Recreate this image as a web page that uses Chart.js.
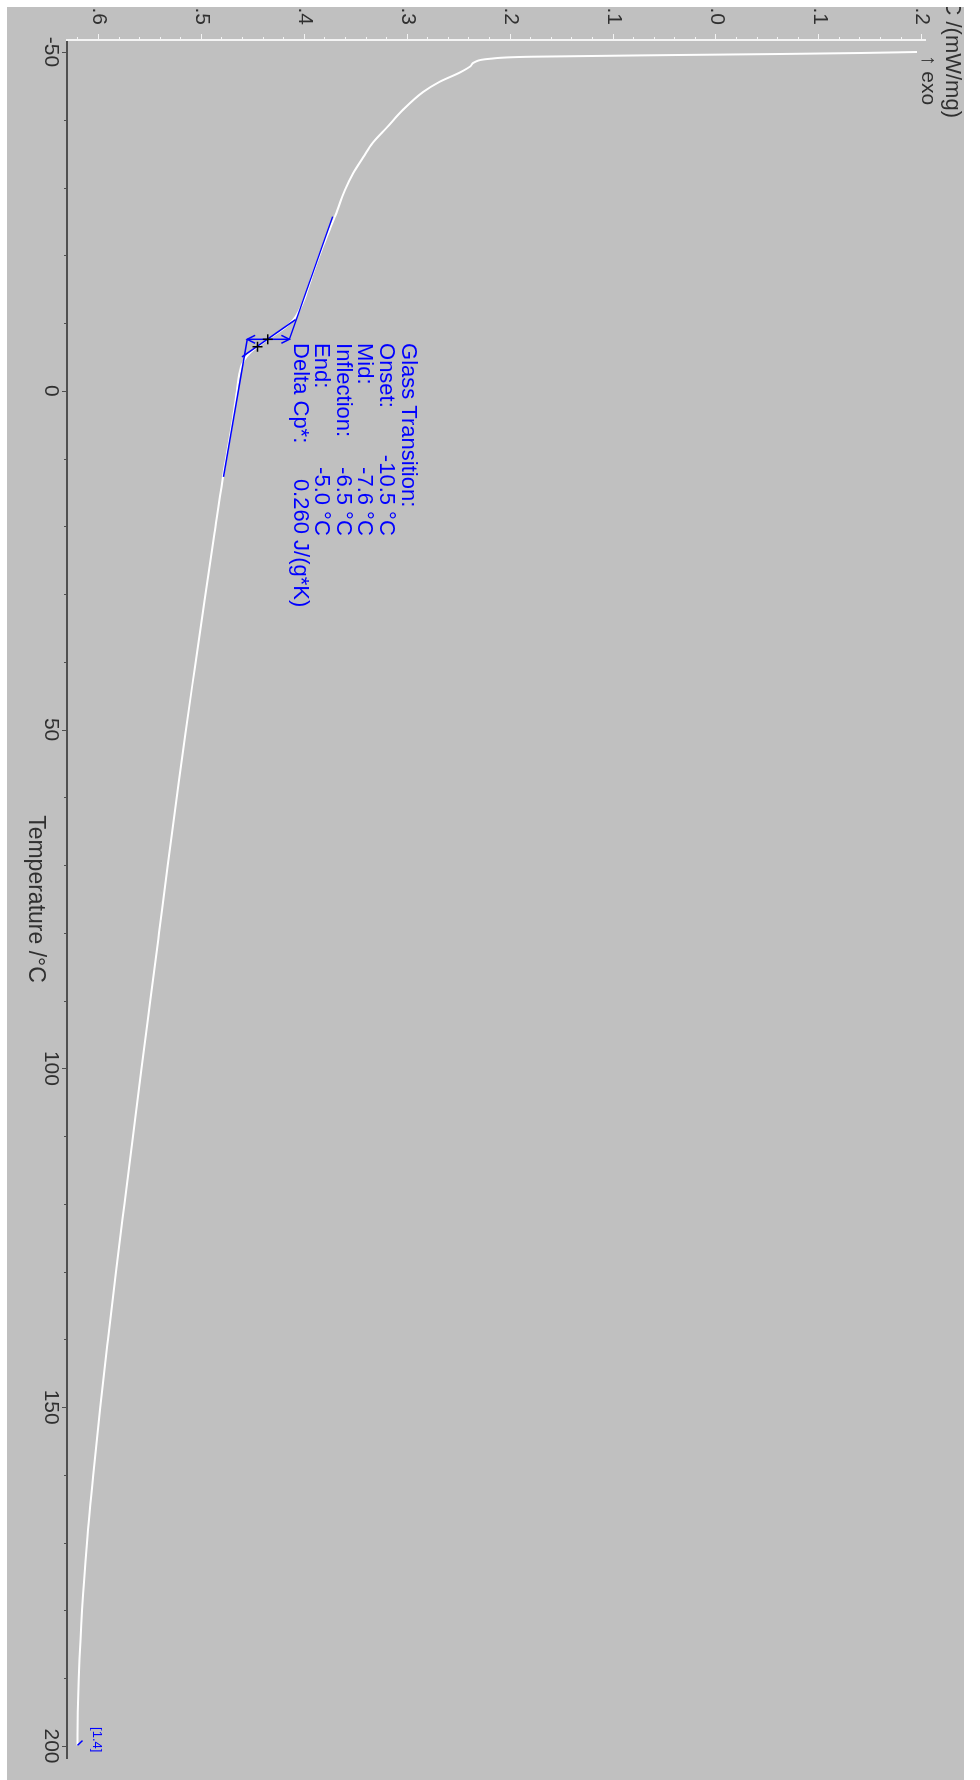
<!DOCTYPE html>
<html>
<head>
<meta charset="utf-8">
<title>DSC glass transition</title>
<script src="https://cdn.jsdelivr.net/npm/chart.js@4.4.1/dist/chart.umd.min.js"></script>
<style>
  body { margin: 0; width: 980px; height: 1780px; overflow: hidden; background: #ffffff; }
  /* grey plot window, the chart itself is drawn landscape and turned a quarter clockwise */
  #plot-frame { position: absolute; left: 7px; top: 7px; width: 957px; height: 1773px; overflow: hidden; background: #c0c0c0; }
  #turned { position: absolute; left: 0; top: 0; width: 1820px; height: 980px; transform-origin: 0 0; transform: translate(973px, -27px) rotate(90deg); }
</style>
</head>
<body>
<div id="plot-frame"><div id="turned"><canvas id="dsc-chart" width="1820" height="980"></canvas></div></div>
<script>
'use strict';

let tempC = [-50.0, -49.85, -49.7, -49.55, -49.3, -49.0, -48.5, -47.9, -47.0, -45.6,
  -44.1, -41.4, -38.9, -36.6, -34.5, -32.1, -29.6, -25.6, -21.5, -17.4,
  -13.7, -12.0, -10.5, -9.5, -8.5, -7.6, -6.5, -5.5, -4.5, -3.5,
  0, 4.3, 13.2, 21, 31, 41, 50.5, 60, 70, 80,
  90, 100, 110, 120, 130, 140, 150, 160, 170, 180,
  190, 195, 199.9];
let dscVals = [0.195, 0.14, 0.06, -0.04, -0.18, -0.22, -0.235, -0.239, -0.249, -0.269,
  -0.285, -0.305, -0.320, -0.334, -0.343, -0.353, -0.361, -0.371, -0.382, -0.392,
  -0.400, -0.405, -0.411, -0.418, -0.427, -0.436, -0.446, -0.454, -0.459, -0.462,
  -0.466, -0.470, -0.480, -0.4877, -0.4974, -0.5070, -0.5160, -0.5244, -0.5331, -0.5416,
  -0.5501, -0.5586, -0.5670, -0.5753, -0.5835, -0.5913, -0.5988, -0.6056, -0.6117, -0.6165,
  -0.6196, -0.6206, -0.6210];

// Glass transition evaluation lines
let upperBaseT = [-25.7, -7.6];
let upperBaseDsc = [-0.373, -0.415];
let lowerBaseT = [-7.6, 12.7];
let lowerBaseDsc = [-0.456, -0.479];
let tangentT = [-10.5, -5.0];
let tangentDsc = [-0.409, -0.461];
let stepArrowT = [-7.6, -7.6];
let stepArrowDsc = [-0.415, -0.456];
// mid point and inflection point crosses
let markT = [-7.6, -6.5];
let markDsc = [-0.436, -0.446];
// little leader at the end of the curve
let endLeadT = [199.9, 199.2];
let endLeadDsc = [-0.621, -0.616];

// Axis ticks
let tempTicks = [-50, 0, 50, 100, 150, 200];
let dscTicks = [-0.6, -0.5, -0.4, -0.3, -0.2, -0.1, 0.0, 0.1, 0.2];
let tempMinorStep = 10;
let dscMinorStep = 0.02;

// Result texts
let gtLabels = ['Glass Transition:', 'Onset:', 'Mid:', 'Inflection:', 'End:', 'Delta Cp*:'];
let gtValues = ['', '-10.5 °C', '-7.6 °C', '-6.5 °C', '-5.0 °C', '0.260 J/(g*K)'];
let endLabel = '[1.4]';
let yTitle = 'DSC /(mW/mg)';
let exoText = '\u2191 exo';

const FONT = "'Liberation Sans', Arial, sans-serif";
const BLUE = '#0000ff';

function toPoints(xs, ys) {
  let pts = [];
  for (let i = 0; i < xs.length; i++) {
    pts.push({ x: xs[i], y: ys[i] });
  }
  return pts;
}

function makeTicks(min, max, step) {
  let list = [];
  let first = Math.ceil(min / step - 1e-9);
  let last = Math.floor(max / step + 1e-9);
  for (let i = first; i <= last; i++) {
    list.push({ value: Math.round(i * step * 1000) / 1000 });
  }
  return list;
}

function isTempMajor(v) {
  return tempTicks.some(t => Math.abs(t - v) < 1e-6);
}
function isDscMajor(v) {
  return dscTicks.some(t => Math.abs(t - v) < 1e-6);
}

// tick marks, arrow heads and the texts
const decorPlugin = {
  id: 'decor',
  afterDraw(chart) {
    let ctx = chart.ctx;
    let xs = chart.scales.x;
    let ys = chart.scales.y;
    let area = chart.chartArea;
    ctx.save();

    // temperature ticks
    ctx.lineWidth = 1;
    ctx.strokeStyle = '#505050';
    xs.ticks.forEach(t => {
      let px = Math.round(xs.getPixelForValue(t.value)) + 0.5;
      let len = isTempMajor(t.value) ? 5 : 3;
      ctx.beginPath();
      ctx.moveTo(px, area.bottom);
      ctx.lineTo(px, area.bottom + len);
      ctx.stroke();
    });

    // DSC ticks
    ctx.strokeStyle = '#f4f4f4';
    ys.ticks.forEach(t => {
      let py = Math.round(ys.getPixelForValue(t.value)) + 0.5;
      let len = isDscMajor(t.value) ? 6 : 3;
      ctx.beginPath();
      ctx.moveTo(area.left, py);
      ctx.lineTo(area.left - len, py);
      ctx.stroke();
    });

    // arrow heads of the delta Cp step
    let ax = xs.getPixelForValue(stepArrowT[0]);
    let aTop = ys.getPixelForValue(stepArrowDsc[0]);
    let aBot = ys.getPixelForValue(stepArrowDsc[1]);
    ctx.strokeStyle = BLUE;
    ctx.lineWidth = 1.5;
    ctx.beginPath();
    ctx.moveTo(ax - 4, aTop + 8);
    ctx.lineTo(ax, aTop);
    ctx.lineTo(ax + 4, aTop + 8);
    ctx.moveTo(ax - 4, aBot - 8);
    ctx.lineTo(ax, aBot);
    ctx.lineTo(ax + 4, aBot - 8);
    ctx.stroke();

    // result block
    ctx.fillStyle = BLUE;
    ctx.font = '22px ' + FONT;
    ctx.textBaseline = 'middle';
    let tx = xs.getPixelForValue(-7.05);
    let ty = ys.getPixelForValue(-0.30);
    let lineH = 21.6;
    for (let i = 0; i < gtLabels.length; i++) {
      ctx.textAlign = 'left';
      ctx.fillText(gtLabels[i], tx, ty + i * lineH);
      if (gtValues[i] === '') continue;
      if (gtValues[i].indexOf('°C') > -1) {
        ctx.textAlign = 'right';
        ctx.fillText(gtValues[i], xs.getPixelForValue(21.4), ty + i * lineH);
      } else {
        ctx.textAlign = 'left';
        ctx.fillText(gtValues[i], xs.getPixelForValue(13.0), ty + i * lineH);
      }
    }

    // curve number at the end
    ctx.font = '13px ' + FONT;
    ctx.textAlign = 'left';
    ctx.fillText(endLabel, xs.getPixelForValue(197.2), ys.getPixelForValue(-0.602));

    // y title and exo arrow above the y axis
    ctx.fillStyle = '#303030';
    ctx.font = '22px ' + FONT;
    ctx.textAlign = 'right';
    ctx.fillText(yTitle, area.left + 78, area.top - 27);
    ctx.font = '21px ' + FONT;
    ctx.textAlign = 'left';
    ctx.fillText(exoText, area.left + 15, area.top - 3);

    ctx.restore();
  }
};

Chart.defaults.font.family = FONT;

let ctx = document.getElementById('dsc-chart');

let chartObject = {
  type: 'line',
  data: {
    datasets: [{
      label: 'DSC',
      data: toPoints(tempC, dscVals),
      borderColor: '#ffffff',
      borderWidth: 2,
      pointRadius: 0,
      cubicInterpolationMode: 'monotone',
      order: 3
    },
    {
      label: 'upper baseline',
      data: toPoints(upperBaseT, upperBaseDsc),
      borderColor: BLUE,
      borderWidth: 1.5,
      pointRadius: 0,
      order: 1
    },
    {
      label: 'lower baseline',
      data: toPoints(lowerBaseT, lowerBaseDsc),
      borderColor: BLUE,
      borderWidth: 1.5,
      pointRadius: 0,
      order: 1
    },
    {
      label: 'tangent',
      data: toPoints(tangentT, tangentDsc),
      borderColor: BLUE,
      borderWidth: 1.5,
      pointRadius: 0,
      order: 1
    },
    {
      label: 'step',
      data: toPoints(stepArrowT, stepArrowDsc),
      borderColor: BLUE,
      borderWidth: 1.5,
      pointRadius: 0,
      order: 1
    },
    {
      label: 'end lead',
      data: toPoints(endLeadT, endLeadDsc),
      borderColor: BLUE,
      borderWidth: 1.5,
      pointRadius: 0,
      order: 1
    },
    {
      label: 'marks',
      data: toPoints(markT, markDsc),
      showLine: false,
      pointStyle: 'cross',
      pointRadius: 5,
      borderColor: '#000000',
      borderWidth: 1.5,
      order: 0
    }]
  },
  options: {
    responsive: false,
    animation: false,
    events: [],
    layout: {
      padding: { left: 0, right: 42, top: 55, bottom: 0 }
    },
    plugins: {
      legend: { display: false },
      tooltip: { enabled: false }
    },
    scales: {
      x: {
        type: 'linear',
        min: -51.77,
        max: 201.77,
        grid: { display: false, drawTicks: false },
        border: { display: true, color: '#505050', width: 2 },
        afterBuildTicks: scale => { scale.ticks = makeTicks(scale.min, scale.max, tempMinorStep); },
        afterFit: scale => { scale.height = 67; },
        ticks: {
          autoSkip: false,
          maxRotation: 0,
          padding: 4,
          color: '#303030',
          font: { size: 21 },
          callback: v => isTempMajor(v) ? String(v) : ''
        },
        title: {
          display: true,
          text: 'Temperature /°C',
          color: '#303030',
          font: { size: 23 },
          padding: { top: 0, bottom: 22 }
        }
      },
      y: {
        type: 'linear',
        min: -0.6311,
        max: 0.2027,
        grid: { display: false, drawTicks: false },
        border: { display: true, color: '#f4f4f4', width: 2 },
        afterBuildTicks: scale => { scale.ticks = makeTicks(scale.min, scale.max, dscMinorStep); },
        afterFit: scale => { scale.width = 60; },
        ticks: {
          autoSkip: false,
          padding: 15,
          color: '#303030',
          font: { size: 21 },
          callback: v => isDscMajor(v) ? v.toFixed(1) : ''
        }
      }
    }
  },
  plugins: [decorPlugin]
};

const dscChart = new Chart(ctx, chartObject);
</script>
</body>
</html>
